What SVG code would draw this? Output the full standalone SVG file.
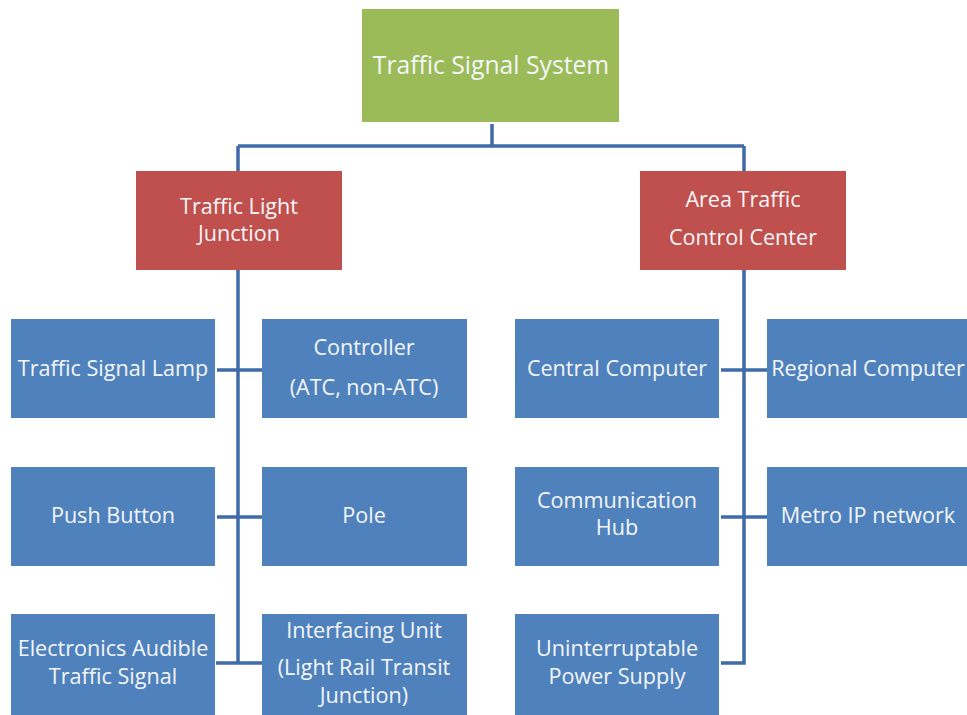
<svg xmlns="http://www.w3.org/2000/svg" width="967" height="715" viewBox="0 0 967 715">
<style>
.t{font-family:"Open Sans",Lato,"Liberation Sans",sans-serif;fill:#F4F6F8;text-anchor:middle;font-size:21.6px}
.big{font-size:24.7px}
.g{fill:#9BBB59}
.r{fill:#C0504D}
.b{fill:#4F81BD}
.c{stroke:#3F6BA8;stroke-width:3.5;fill:none}
</style>
<rect width="967" height="715" fill="#FFFFFF"/>
<g id="connectors">
<path class="c" d="M492 124V146M238 146H744M238 146V171M744 146V171"/>
<path class="c" d="M238 270V663H216M217 370H262M217 517H262M239 663H262"/>
<path class="c" d="M744 270V663H721M721 370H767M721 517H767"/>
</g>
<g id="root"><rect class="g" x="362" y="9" width="257" height="113"/><text class="t big" x="491" y="74">Traffic Signal System</text></g>
<g id="tlj"><rect class="r" x="136" y="171" width="206" height="99"/><text class="t" x="239" y="214">Traffic Light</text><text class="t" x="239" y="241">Junction</text></g>
<g id="atcc"><rect class="r" x="640" y="171" width="206" height="99"/><text class="t" x="743" y="207">Area Traffic</text><text class="t" x="743" y="245">Control Center</text></g>
<g id="lamp"><rect class="b" x="11" y="319" width="204" height="99"/><text class="t" x="113" y="376">Traffic Signal Lamp</text></g>
<g id="controller"><rect class="b" x="262" y="319" width="205" height="99"/><text class="t" x="364" y="355">Controller</text><text class="t" x="364" y="395">(ATC, non-ATC)</text></g>
<g id="central"><rect class="b" x="515" y="319" width="204" height="99"/><text class="t" x="617" y="376">Central Computer</text></g>
<g id="regional"><rect class="b" x="767" y="319" width="210" height="99"/><text class="t" x="868" y="376">Regional Computer</text></g>
<g id="push"><rect class="b" x="11" y="467" width="204" height="99"/><text class="t" x="113" y="523">Push Button</text></g>
<g id="pole"><rect class="b" x="262" y="467" width="205" height="99"/><text class="t" x="364" y="523">Pole</text></g>
<g id="hub"><rect class="b" x="515" y="467" width="204" height="99"/><text class="t" x="617" y="508">Communication</text><text class="t" x="617" y="535">Hub</text></g>
<g id="metro"><rect class="b" x="767" y="467" width="210" height="99"/><text class="t" x="868" y="523">Metro IP network</text></g>
<g id="eats"><rect class="b" x="11" y="614" width="204" height="101"/><text class="t" x="113" y="656">Electronics Audible</text><text class="t" x="113" y="684">Traffic Signal</text></g>
<g id="iu"><rect class="b" x="262" y="614" width="205" height="101"/><text class="t" x="364" y="638">Interfacing Unit</text><text class="t" x="364" y="675">(Light Rail Transit</text><text class="t" x="364" y="703">Junction)</text></g>
<g id="ups"><rect class="b" x="515" y="614" width="204" height="101"/><text class="t" x="617" y="656">Uninterruptable</text><text class="t" x="617" y="684">Power Supply</text></g>
</svg>
